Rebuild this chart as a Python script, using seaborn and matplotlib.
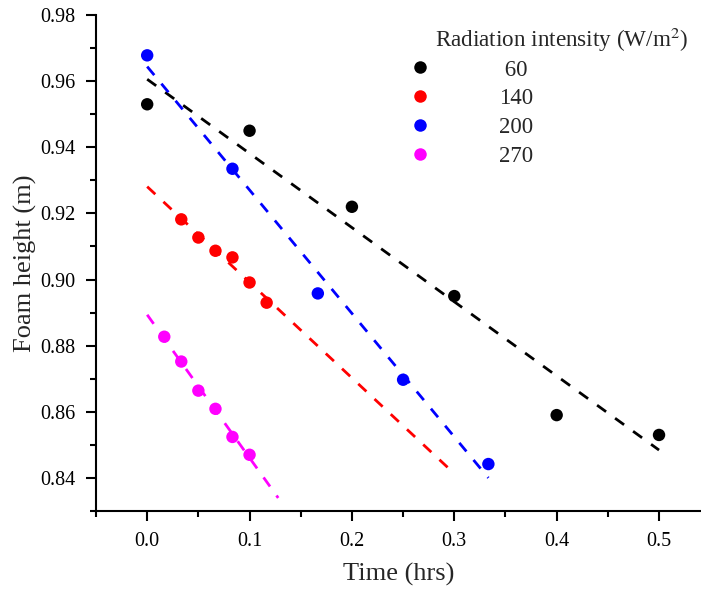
import numpy as np
import pandas as pd
import matplotlib
matplotlib.use("Agg")
import matplotlib.pyplot as plt
from matplotlib.ticker import MultipleLocator, FormatStrFormatter
from matplotlib.lines import Line2D
import seaborn as sns

sns.set_theme(style="ticks")
plt.rcParams['font.family'] = ['Liberation Serif', 'DejaVu Serif']
plt.rcParams['mathtext.fontset'] = 'stix'

# ---- data ----
series_names = ["60", "140", "200", "270"]
colors = ["#000000", "#ff0000", "#0000ff", "#ff00ff"]

time_60 = [0.0, 0.1, 0.2, 0.3, 0.4, 0.5]
height_60 = [0.953, 0.945, 0.922, 0.895, 0.859, 0.853]

time_140 = [0.0333, 0.05, 0.0667, 0.0833, 0.1, 0.1167]
height_140 = [0.9182, 0.9127, 0.9087, 0.9067, 0.8991, 0.8930]

time_200 = [0.0, 0.0833, 0.1667, 0.25, 0.3333]
height_200 = [0.9678, 0.9335, 0.8958, 0.8697, 0.8442]

time_270 = [0.0167, 0.0333, 0.05, 0.0667, 0.0833, 0.1]
height_270 = [0.8827, 0.8752, 0.8664, 0.8609, 0.8524, 0.8470]

# x-range of each fitted (dashed) line
fit_start = [0.0, 0.0, 0.0, 0.0]
fit_end = [0.5, 0.295, 0.3333, 0.128]

times = [time_60, time_140, time_200, time_270]
heights = [height_60, height_140, height_200, height_270]

rows = []
for name, t, h in zip(series_names, times, heights):
    for ti, hi in zip(t, h):
        rows.append({"Time": ti, "Height": hi, "Intensity": name})
df = pd.DataFrame(rows)

fit_rows = []
for name, t, h, x0, x1 in zip(series_names, times, heights, fit_start, fit_end):
    slope, icpt = np.polyfit(t, h, 1)
    for xv in (x0, x1):
        fit_rows.append({"Time": xv, "Height": icpt + slope * xv, "Intensity": name})
fit_df = pd.DataFrame(fit_rows)

palette = dict(zip(series_names, colors))

fig = plt.figure(figsize=(7.01, 5.91), dpi=100)
ax = fig.add_axes([96/701, 1 - 511/591, 1 - 96/701, (511 - 15)/591])

for name in series_names:
    sub = fit_df[fit_df.Intensity == name]
    ax.plot(sub.Time, sub.Height, color=palette[name], lw=2, dashes=(4, 4), zorder=2)

sns.scatterplot(data=df, x="Time", y="Height", hue="Intensity", hue_order=series_names,
                palette=palette, s=80, edgecolor="none", linewidth=0, ax=ax, zorder=3,
                legend=False)

ax.set_xlim(-0.05, 0.541)
ax.set_ylim(0.83, 0.98)
ax.xaxis.set_major_locator(MultipleLocator(0.1))
ax.xaxis.set_minor_locator(MultipleLocator(0.05))
ax.yaxis.set_major_locator(MultipleLocator(0.02))
ax.yaxis.set_minor_locator(MultipleLocator(0.01))
ax.xaxis.set_major_formatter(FormatStrFormatter('%.1f'))
ax.yaxis.set_major_formatter(FormatStrFormatter('%.2f'))

for s in ['top', 'right']:
    ax.spines[s].set_visible(False)
for s in ['left', 'bottom']:
    ax.spines[s].set_linewidth(1.5)
    ax.spines[s].set_color('black')

ax.tick_params(axis='both', which='major', direction='out', length=7, width=1.5,
               labelsize=14.5, colors='black', pad=8)
ax.tick_params(axis='both', which='minor', direction='out', length=4, width=1.5, colors='black')

ax.set_xlabel("Time (hrs)", fontsize=19, labelpad=9)
ax.set_ylabel("Foam height (m)", fontsize=19, labelpad=2)

# legend
handles = [Line2D([], [], ls='none', marker='o', markersize=9, color=c, markeredgewidth=0)
           for c in colors]
labels = [" 60", "140", "200", "270"]
leg = ax.legend(handles, labels, loc='upper left', bbox_to_anchor=(397/701, 1 - 48/591),
                bbox_transform=fig.transFigure, frameon=False, fontsize=16.5,
                handletextpad=2.95, labelspacing=0.345, borderpad=0, handlelength=1)
fig.text(435/701, 1 - 40/591, "Radiation intensity (W/m$^2$)", fontsize=16.7,
         va='center', ha='left')

fig.savefig("out.png", dpi=100)
